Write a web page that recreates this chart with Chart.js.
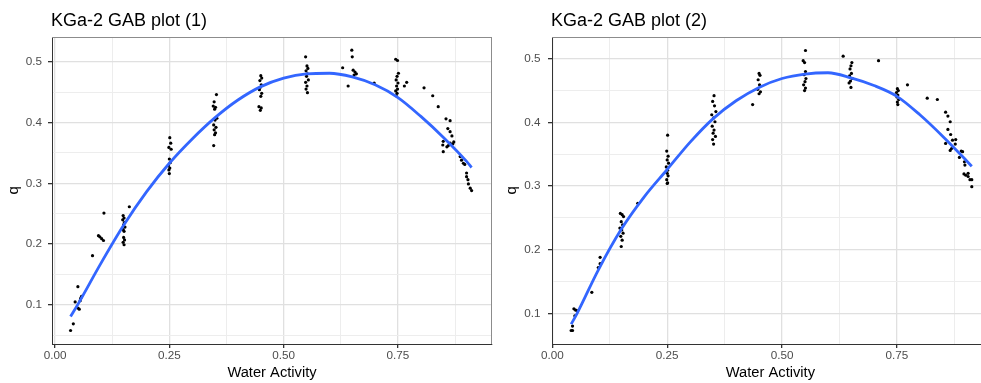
<!DOCTYPE html>
<html>
<head>
<meta charset="utf-8">
<script src="https://cdn.jsdelivr.net/npm/chart.js@4.4.0/dist/chart.umd.min.js"></script>
<style>
    html, body { margin: 0; padding: 0; background: #fff; overflow: hidden; }
    body { width: 981px; height: 383px; position: relative; }
    canvas { position: absolute; top: 0; }
    #gab1 { left: 0; }
    #gab2 { left: 491px; }
</style>
</head>
<body>
<canvas id="gab1" width="500" height="383"></canvas>
<canvas id="gab2" width="510" height="383"></canvas>
<script>
const titles = ["KGa-2 GAB plot (1)", "KGa-2 GAB plot (2)"];
const xMajor = [0, 0.25, 0.5, 0.75];
const xTickLabels = ["0.00", "0.25", "0.50", "0.75"];
const xMinor = [0.125, 0.375, 0.625, 0.875];
const yMajor = [0.1, 0.2, 0.3, 0.4, 0.5];
const yTickLabels = ["0.1", "0.2", "0.3", "0.4", "0.5"];
const yMinor = [0.05, 0.15, 0.25, 0.35, 0.45];

// plot (1) measured points
const p1X = [0.034, 0.040, 0.044, 0.050, 0.050, 0.053, 0.055, 0.056, 0.058, 0.082, 0.095, 0.098, 0.102, 0.106, 0.107,
    0.149, 0.151, 0.148, 0.152, 0.150, 0.153, 0.149, 0.151, 0.150, 0.152, 0.149, 0.151, 0.1625,
    0.251, 0.253, 0.249, 0.254, 0.250, 0.252, 0.248, 0.251, 0.249, 0.250,
    0.353, 0.348, 0.346, 0.351, 0.349, 0.354, 0.350, 0.347, 0.352, 0.348, 0.351, 0.349, 0.347,
    0.450, 0.452, 0.448, 0.451, 0.449, 0.447, 0.452, 0.450, 0.446, 0.451, 0.449,
    0.548, 0.551, 0.553, 0.549, 0.552, 0.550, 0.554, 0.548, 0.551, 0.549, 0.552,
    0.629, 0.649, 0.650, 0.652, 0.656, 0.659, 0.654, 0.641, 0.698,
    0.745, 0.749, 0.751, 0.748, 0.746, 0.750, 0.747, 0.749, 0.745, 0.748, 0.746, 0.764, 0.769,
    0.807, 0.826, 0.838, 0.855, 0.864, 0.859, 0.864, 0.868, 0.849, 0.848, 0.849, 0.857, 0.860, 0.864, 0.870, 0.872,
    0.886, 0.889, 0.893, 0.896, 0.900, 0.900, 0.903, 0.904, 0.908, 0.911];
const p1Y = [0.058, 0.069, 0.105, 0.130, 0.095, 0.093, 0.107, 0.111, 0.114, 0.181, 0.214, 0.212, 0.209, 0.206, 0.251,
    0.247, 0.243, 0.240, 0.236, 0.232, 0.228, 0.224, 0.221, 0.211, 0.207, 0.203, 0.199, 0.2615,
    0.375, 0.366, 0.359, 0.356, 0.340, 0.334, 0.329, 0.325, 0.322, 0.316,
    0.446, 0.434, 0.427, 0.425, 0.422, 0.407, 0.404, 0.396, 0.392, 0.388, 0.383, 0.380, 0.362,
    0.477, 0.473, 0.469, 0.462, 0.458, 0.454, 0.448, 0.443, 0.426, 0.424, 0.420,
    0.508, 0.493, 0.489, 0.485, 0.480, 0.476, 0.470, 0.466, 0.460, 0.455, 0.449,
    0.490, 0.519, 0.508, 0.486, 0.483, 0.480, 0.478, 0.460, 0.465,
    0.504, 0.502, 0.481, 0.476, 0.470, 0.465, 0.460, 0.455, 0.452, 0.448, 0.444, 0.460, 0.466,
    0.457, 0.444, 0.426, 0.406, 0.403, 0.390, 0.385, 0.378, 0.369, 0.363, 0.352, 0.360, 0.362, 0.366, 0.365, 0.368,
    0.344, 0.338, 0.333, 0.331, 0.317, 0.311, 0.306, 0.299, 0.292, 0.288];

// plot (1) fitted curve
const fit1X = [0.034, 0.05, 0.1, 0.15, 0.2, 0.25, 0.3, 0.35, 0.4, 0.45, 0.5, 0.55, 0.6, 0.65, 0.7, 0.75, 0.8, 0.85, 0.9, 0.911];
const fit1Y = [0.081, 0.101, 0.168, 0.231, 0.286, 0.333, 0.373, 0.408, 0.437, 0.459, 0.473, 0.480, 0.481, 0.475, 0.462, 0.441, 0.410, 0.375, 0.336, 0.326];

// plot (2) measured points
const p2X = [0.041, 0.044, 0.044, 0.047, 0.051, 0.055, 0.049, 0.086, 0.100, 0.104, 0.104,
    0.148, 0.152, 0.155, 0.150, 0.153, 0.147, 0.151, 0.154, 0.149, 0.152, 0.150, 0.186,
    0.251, 0.249, 0.252, 0.250, 0.253, 0.248, 0.251, 0.250, 0.252, 0.249, 0.251, 0.250,
    0.352, 0.349, 0.353, 0.356, 0.347, 0.351, 0.354, 0.348, 0.352, 0.350, 0.355, 0.349, 0.351,
    0.436, 0.450, 0.452, 0.448, 0.451, 0.447, 0.453, 0.450,
    0.551, 0.546, 0.549, 0.551, 0.548, 0.552, 0.550, 0.547, 0.551, 0.549,
    0.633, 0.652, 0.650, 0.648, 0.651, 0.647, 0.653, 0.649, 0.646, 0.650, 0.710,
    0.751, 0.753, 0.749, 0.752, 0.750, 0.754, 0.751, 0.752, 0.773,
    0.816, 0.838, 0.856, 0.861, 0.866, 0.861, 0.867, 0.856, 0.871, 0.878, 0.877, 0.869, 0.866,
    0.886, 0.890, 0.893, 0.897, 0.898, 0.896, 0.900, 0.905, 0.905, 0.909, 0.913, 0.913];
const p2Y = [0.073, 0.073, 0.080, 0.107, 0.105, 0.104, 0.096, 0.133, 0.172, 0.178, 0.188,
    0.257, 0.255, 0.252, 0.244, 0.239, 0.234, 0.231, 0.226, 0.221, 0.215, 0.205, 0.273,
    0.380, 0.355, 0.347, 0.341, 0.336, 0.330, 0.325, 0.320, 0.316, 0.310, 0.305, 0.304,
    0.442, 0.433, 0.426, 0.417, 0.412, 0.407, 0.401, 0.394, 0.388, 0.383, 0.378, 0.373, 0.366,
    0.428, 0.477, 0.474, 0.467, 0.459, 0.452, 0.448, 0.445,
    0.513, 0.497, 0.494, 0.480, 0.475, 0.469, 0.464, 0.459, 0.454, 0.450,
    0.504, 0.494, 0.489, 0.484, 0.477, 0.473, 0.469, 0.465, 0.462, 0.455, 0.497,
    0.453, 0.450, 0.447, 0.443, 0.440, 0.436, 0.432, 0.428, 0.459,
    0.438, 0.436, 0.416, 0.410, 0.401, 0.389, 0.381, 0.367, 0.372, 0.373, 0.366, 0.359, 0.356,
    0.345, 0.355, 0.354, 0.338, 0.333, 0.319, 0.317, 0.320, 0.315, 0.310, 0.310, 0.299];

// plot (2) fitted curve
const fit2X = [0.041, 0.054, 0.1, 0.15, 0.2, 0.25, 0.3, 0.35, 0.4, 0.45, 0.5, 0.55, 0.6, 0.65, 0.7, 0.75, 0.8, 0.85, 0.9, 0.913];
const fit2Y = [0.083, 0.100, 0.168, 0.232, 0.283, 0.326, 0.369, 0.406, 0.434, 0.455, 0.469, 0.476, 0.478, 0.470, 0.458, 0.441, 0.412, 0.378, 0.341, 0.331];

const fontFamily = '"Liberation Sans", Arial, Helvetica, sans-serif';

function near(list, v) {
    return list.findIndex((m) => Math.abs(m - v) < 1e-6);
}

function toPoints(xs, ys) {
    return xs.map((x, i) => ({ x: x, y: ys[i] }));
}

// ggplot-like panel frame and left aligned title
const panelDeco = {
    id: "panelDeco",
    afterDraw(chart, args, opts) {
        const { ctx, chartArea } = chart;
        ctx.save();
        ctx.strokeStyle = "#8c8c8c";
        ctx.lineWidth = 1;
        ctx.beginPath();
        ctx.moveTo(chartArea.left, Math.round(chartArea.top) + 0.5);
        ctx.lineTo(chartArea.right, Math.round(chartArea.top) + 0.5);
        ctx.moveTo(Math.round(chartArea.right) - 0.5, chartArea.top);
        ctx.lineTo(Math.round(chartArea.right) - 0.5, chartArea.bottom);
        ctx.stroke();
        ctx.fillStyle = "#000";
        ctx.font = "18px " + fontFamily;
        ctx.textBaseline = "alphabetic";
        ctx.fillText(opts.text, chartArea.left - 1, 26);
        ctx.restore();
    },
};

function gabChart(id, cfg) {
    const canvas = document.getElementById(id);
    new Chart(canvas, {
        type: "scatter",
        data: {
            datasets: [
                {
                    data: toPoints(cfg.fitX, cfg.fitY),
                    showLine: true,
                    borderColor: "#3366FF",
                    borderWidth: 2.8,
                    pointRadius: 0,
                    cubicInterpolationMode: "monotone",
                    order: 0,
                },
                {
                    data: toPoints(cfg.px, cfg.py),
                    backgroundColor: "#000",
                    borderWidth: 0,
                    pointRadius: 1.6,
                    order: 1,
                },
            ],
        },
        options: {
            responsive: false,
            animation: false,
            devicePixelRatio: 1,
            layout: { padding: { top: 37, right: cfg.padRight, left: 0, bottom: 0 } },
            plugins: {
                legend: { display: false },
                tooltip: { enabled: false },
                panelDeco: { text: cfg.title },
            },
            scales: {
                x: {
                    type: "linear",
                    min: cfg.xMin,
                    max: cfg.xMax,
                    afterBuildTicks: (scale) => {
                        scale.ticks = xMajor.concat(xMinor)
                            .filter((v) => v >= scale.min && v <= scale.max)
                            .sort((a, b) => a - b)
                            .map((v) => ({ value: v }));
                    },
                    afterFit: (scale) => {
                        scale.height = 39;
                    },
                    ticks: {
                        autoSkip: false,
                        maxRotation: 0,
                        padding: 1,
                        color: "#4d4d4d",
                        font: { family: fontFamily, size: 11.7 },
                        callback: (v) => {
                            const i = near(xMajor, v);
                            return i >= 0 ? xTickLabels[i] : "";
                        },
                    },
                    grid: {
                        color: (c) => (c.tick && near(xMajor, c.tick.value) >= 0 ? "#e0e0e0" : "#ededed"),
                        lineWidth: (c) => (c.tick && near(xMajor, c.tick.value) >= 0 ? 1.3 : 1),
                        tickLength: 4,
                        tickColor: (c) => (c.tick && near(xMajor, c.tick.value) >= 0 ? "#333" : "rgba(0,0,0,0)"),
                    },
                    border: { color: "#333", width: 1 },
                    title: {
                        display: true,
                        text: "Water Activity",
                        color: "#000",
                        font: { family: fontFamily, size: 14.7 },
                        padding: { top: 0, bottom: 1.5 },
                    },
                },
                y: {
                    type: "linear",
                    min: cfg.yMin,
                    max: cfg.yMax,
                    afterBuildTicks: (scale) => {
                        scale.ticks = yMajor.concat(yMinor)
                            .filter((v) => v >= scale.min && v <= scale.max)
                            .sort((a, b) => a - b)
                            .map((v) => ({ value: v }));
                    },
                    afterFit: (scale) => {
                        scale.width = cfg.yWidth;
                    },
                    ticks: {
                        autoSkip: false,
                        padding: cfg.yLabelPad,
                        color: "#4d4d4d",
                        font: { family: fontFamily, size: 11.7 },
                        callback: (v) => {
                            const i = near(yMajor, v);
                            return i >= 0 ? yTickLabels[i] : "";
                        },
                    },
                    grid: {
                        color: (c) => (c.tick && near(yMajor, c.tick.value) >= 0 ? "#e0e0e0" : "#ededed"),
                        lineWidth: (c) => (c.tick && near(yMajor, c.tick.value) >= 0 ? 1.3 : 1),
                        tickLength: 4,
                        tickColor: (c) => (c.tick && near(yMajor, c.tick.value) >= 0 ? "#333" : "rgba(0,0,0,0)"),
                    },
                    border: { color: "#333", width: 1 },
                    title: {
                        display: true,
                        text: "q",
                        color: "#000",
                        font: { family: fontFamily, size: 14.7 },
                        padding: { top: cfg.yTitlePad, bottom: 0 },
                    },
                },
            },
        },
        plugins: [panelDeco],
    });
}

gabChart("gab1", {
    title: titles[0],
    px: p1X, py: p1Y, fitX: fit1X, fitY: fit1Y,
    xMin: -0.0066, xMax: 0.9556, yMin: 0.0358, yMax: 0.5406,
    yWidth: 52, yLabelPad: 6, yTitlePad: 5, padRight: 8,
});

gabChart("gab2", {
    title: titles[1],
    px: p2X, py: p2Y, fitX: fit2X, fitY: fit2Y,
    xMin: -0.0007, xMax: 0.95, yMin: 0.0518, yMax: 0.5342,
    yWidth: 61, yLabelPad: 7.5, yTitlePad: 12, padRight: 12.2,
});
</script>
</body>
</html>
